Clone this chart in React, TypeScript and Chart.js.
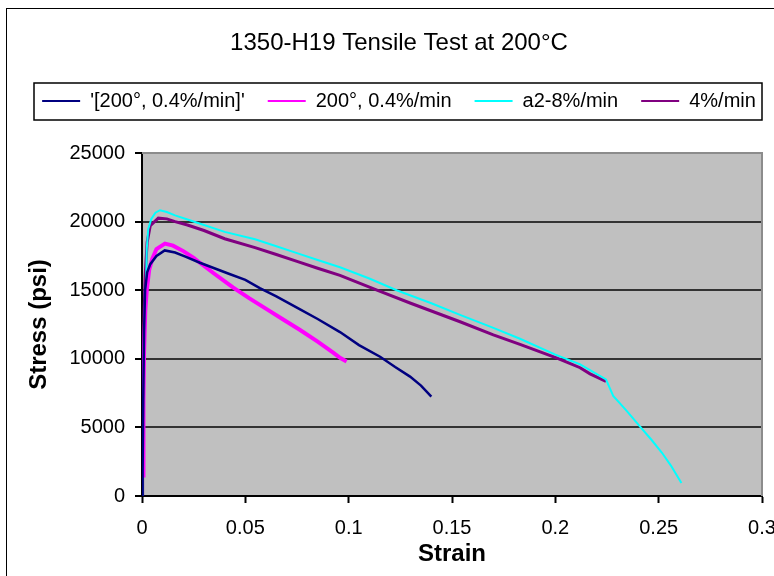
import React, { useEffect, useRef } from 'react';
import { Chart, registerables } from 'chart.js';

Chart.register(...registerables);

// ---- data ----
const seriesLabels = ["'[200°, 0.4%/min]'", '200°, 0.4%/min', 'a2-8%/min', '4%/min'];

const navyStrain = [0, 0.0003, 0.0006, 0.001, 0.0015, 0.0025, 0.004, 0.007, 0.011, 0.016, 0.021, 0.028, 0.035, 0.042, 0.05, 0.057, 0.065, 0.0765, 0.085, 0.0958, 0.105, 0.1152, 0.1225, 0.1297, 0.135, 0.14];
const navyStress = [0, 1800, 7000, 12000, 15000, 16300, 16900, 17500, 17900, 17750, 17450, 17000, 16600, 16200, 15750, 15150, 14550, 13600, 12900, 11950, 11000, 10150, 9400, 8700, 8050, 7250];

const magStrain = [0.0005, 0.0007, 0.001, 0.0016, 0.0023, 0.0035, 0.005, 0.007, 0.0111, 0.015, 0.02, 0.025, 0.028, 0.035, 0.044, 0.052, 0.0605, 0.0685, 0.0765, 0.085, 0.0925, 0.096, 0.099];
const magStress = [1500, 7000, 10500, 13500, 15000, 16500, 17300, 18000, 18400, 18250, 17850, 17350, 17000, 16200, 15200, 14400, 13600, 12850, 12100, 11250, 10450, 10050, 9800];

const cyanStrain = [0, 0.0003, 0.0007, 0.0013, 0.0019, 0.0023, 0.003, 0.0045, 0.0065, 0.0087, 0.012, 0.016, 0.022, 0.03, 0.04, 0.0547, 0.065, 0.075, 0.085, 0.0958, 0.11, 0.1232, 0.14, 0.1539, 0.17, 0.1829, 0.2, 0.212, 0.2245, 0.228, 0.234, 0.241, 0.2465, 0.2516, 0.256, 0.261];
const cyanStress = [0, 5000, 10000, 13000, 15000, 18000, 19450, 20200, 20650, 20830, 20700, 20450, 20150, 19750, 19250, 18710, 18200, 17700, 17200, 16670, 15850, 15000, 14050, 13200, 12250, 11460, 10300, 9600, 8500, 7300, 6300, 5050, 4100, 3150, 2200, 950];

const purStrain = [0, 0.0003, 0.0008, 0.0015, 0.0025, 0.004, 0.0079, 0.012, 0.016, 0.022, 0.03, 0.04, 0.0547, 0.065, 0.075, 0.085, 0.0958, 0.1137, 0.13, 0.1539, 0.17, 0.1829, 0.2008, 0.2055, 0.212, 0.2168, 0.2245];
const purStress = [0, 5000, 12000, 16000, 18500, 19700, 20250, 20200, 20000, 19750, 19350, 18750, 18100, 17600, 17100, 16600, 16080, 15000, 14050, 12700, 11750, 11050, 10050, 9750, 9350, 8900, 8350];

const xTickValues = [0, 0.05, 0.1, 0.15, 0.2, 0.25, 0.3];
const xTickLabels = ['0', '0.05', '0.1', '0.15', '0.2', '0.25', '0.3'];
const yTickValues = [0, 5000, 10000, 15000, 20000, 25000];
const yTickLabels = ['0', '5000', '10000', '15000', '20000', '25000'];

const FONT = "'Liberation Sans', Arial, Helvetica, sans-serif";

function pts(xs: number[], ys: number[]) {
  return xs.map((x, i) => ({ x, y: ys[i] }));
}

const framePlugin = {
  id: 'excelFrame',
  beforeDraw(chart: any) {
    const { ctx, chartArea: a, width, height } = chart;
    ctx.save();
    ctx.fillStyle = '#ffffff';
    ctx.fillRect(0, 0, width, height);
    ctx.strokeStyle = '#000000';
    ctx.lineWidth = 1;
    ctx.strokeRect(6.5, 8.5, width + 50, height + 50);
    ctx.fillStyle = '#c0c0c0';
    ctx.fillRect(a.left, a.top, a.right - a.left, a.bottom - a.top);
    ctx.restore();
  },
  afterDraw(chart: any) {
    const { ctx, chartArea: a } = chart;
    ctx.save();
    ctx.strokeStyle = '#8c8c8c';
    ctx.lineWidth = 2;
    ctx.beginPath();
    ctx.moveTo(a.left, a.top);
    ctx.lineTo(a.right, a.top);
    ctx.lineTo(a.right, a.bottom);
    ctx.stroke();
    // legend frame
    const hb = chart.legend && chart.legend.legendHitBoxes;
    if (hb && hb.length) {
      const l = Math.min(...hb.map((h: any) => h.left));
      const r = Math.max(...hb.map((h: any) => h.left + h.width));
      const t = hb[0].top;
      const b = hb[0].top + hb[0].height;
      ctx.strokeStyle = '#000000';
      ctx.lineWidth = 1.5;
      ctx.strokeRect(Math.round(l - 8), Math.round(t - 8), Math.round(r - l + 14), Math.round(b - t + 17));
    }
    ctx.restore();
  },
};

export default function App() {
  const ref = useRef<HTMLCanvasElement | null>(null);

  useEffect(() => {
    if (!ref.current) return;
    const mk = (label: string, xs: number[], ys: number[], color: string, w: number) => ({
      label,
      data: pts(xs, ys),
      borderColor: color,
      backgroundColor: color,
      borderWidth: w,
      showLine: true,
      pointRadius: 0,
      tension: 0,
    });
    const chart = new Chart(ref.current, {
      type: 'scatter',
      data: {
        datasets: [
          mk(seriesLabels[0], navyStrain, navyStress, '#000080', 2.5),
          mk(seriesLabels[1], magStrain, magStress, '#ff00ff', 4),
          mk(seriesLabels[2], cyanStrain, cyanStress, '#00ffff', 2),
          mk(seriesLabels[3], purStrain, purStress, '#800080', 3),
        ],
      },
      options: {
        responsive: false,
        animation: false,
        events: [],
        layout: { padding: { left: 6, right: 8, top: 0, bottom: 24 } },
        plugins: {
          title: {
            display: true,
            text: '1350-H19 Tensile Test at 200°C',
            color: '#000',
            font: { family: FONT, size: 24, weight: 'normal', lineHeight: 1.2 },
            padding: { top: 28.6, bottom: 10.6 },
          },
          subtitle: {
            display: true,
            text: '',
            weight: 500,
            font: { family: FONT, size: 10, lineHeight: 1 },
            padding: { top: 22, bottom: 0 },
          },
          legend: {
            display: true,
            position: 'top',
            labels: {
              usePointStyle: true,
              pointStyle: 'line',
              pointStyleWidth: 38,
              padding: 23,
              color: '#000',
              font: { family: FONT, size: 20 },
              generateLabels: (c: any) =>
                Chart.defaults.plugins.legend.labels.generateLabels(c).map((l: any) => ({ ...l, lineWidth: 2 })),
            },
          },
          tooltip: { enabled: false },
        },
        scales: {
          x: {
            type: 'linear',
            min: 0,
            max: 0.3,
            afterBuildTicks: (s: any) => {
              s.ticks = xTickValues.map((v) => ({ value: v }));
            },
            afterFit: (s: any) => {
              s.height = 80;
            },
            ticks: {
              color: '#000',
              padding: 13,
              maxRotation: 0,
              autoSkip: false,
              font: { family: FONT, size: 20 },
              callback: (_v: any, i: number) => xTickLabels[i],
            },
            grid: { drawOnChartArea: false, drawTicks: true, tickLength: 7, tickColor: '#000', tickWidth: 2 },
            border: { display: true, color: '#000', width: 2 },
            title: {
              display: true,
              text: 'Strain',
              color: '#000',
              font: { family: FONT, size: 24, weight: 'bold', lineHeight: 1.2 },
              padding: { top: 0, bottom: 7.6 },
            },
          },
          y: {
            type: 'linear',
            min: 0,
            max: 25000,
            afterBuildTicks: (s: any) => {
              s.ticks = yTickValues.map((v) => ({ value: v }));
            },
            afterFit: (s: any) => {
              s.width = 136;
            },
            ticks: {
              color: '#000',
              padding: 10,
              autoSkip: false,
              font: { family: FONT, size: 20 },
              callback: (_v: any, i: number) => yTickLabels[i],
            },
            grid: {
              color: (c: any) => (c.tick && c.tick.value === 25000 ? 'rgba(0,0,0,0)' : '#333333'),
              lineWidth: 2,
              drawTicks: true,
              tickLength: 7,
              tickColor: '#000',
              tickWidth: 2,
            },
            border: { display: true, color: '#000', width: 2 },
            title: {
              display: true,
              text: 'Stress (psi)',
              color: '#000',
              font: { family: FONT, size: 24, weight: 'bold', lineHeight: 1.2 },
              padding: { top: 18.6, bottom: 0 },
            },
          },
          yR: {
            type: 'linear',
            position: 'right',
            display: true,
            afterFit: (s: any) => {
              s.width = 30;
            },
            ticks: { display: false },
            grid: { display: false, drawTicks: false },
            border: { display: false },
          },
        },
      } as any,
      plugins: [framePlugin],
    } as any);
    return () => chart.destroy();
  }, []);

  return (
    <div style={{ position: 'fixed', left: 0, top: 0, width: 774, height: 576, overflow: 'hidden', background: '#fff' }}>
      <canvas ref={ref} width={800} height={600} style={{ display: 'block' }} />
    </div>
  );
}
